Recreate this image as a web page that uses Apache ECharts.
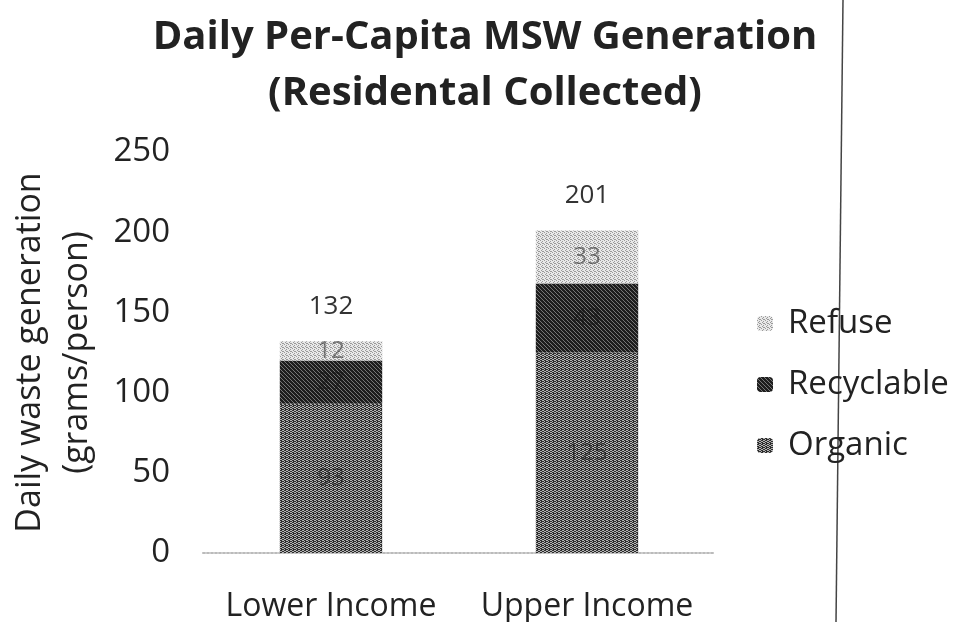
<!DOCTYPE html>
<html>
<head>
<meta charset="utf-8">
<script src="https://cdn.jsdelivr.net/npm/echarts@6/dist/echarts.min.js"></script>
<style>
  html, body { margin: 0; padding: 0; background: #fff; }
  #chart { width: 960px; height: 622px; }
</style>
</head>
<body>
<div id="chart"></div>
<script>
// data
const categories = ['Lower Income', 'Upper Income']
const organic = [93, 125]
const recyclable = [27, 43]
const refuse = [12, 33]
const totals = [132, 201]
const yTicks = [0, 50, 100, 150, 200, 250]

// small dithered tiles to imitate the printed hatching
function makePattern (dark, light, cells) {
  const c = document.createElement('canvas')
  c.width = 4
  c.height = 4
  const ctx = c.getContext('2d')
  ctx.fillStyle = light
  ctx.fillRect(0, 0, 4, 4)
  ctx.fillStyle = dark
  cells.forEach(([x, y]) => ctx.fillRect(x, y, 1, 1))
  return { image: c, repeat: 'repeat' }
}
const organicFill = makePattern('#2e2e2e', '#b4b4b4', [[0, 0], [1, 0], [2, 1], [3, 1], [0, 2], [1, 2], [2, 3], [3, 3], [1, 1], [3, 3]])
const recyclableFill = makePattern('#1e1e1e', '#777', [[0, 0], [1, 0], [2, 0], [1, 1], [2, 1], [3, 1], [0, 2], [2, 2], [3, 2], [0, 3], [1, 3], [3, 3]])
const refuseFill = makePattern('#9a9a9a', '#e8e8e8', [[0, 0], [2, 1], [1, 2], [3, 3], [2, 3]])

const font = 'Open Sans'
const innerLabel = {
  show: true,
  position: 'inside',
  color: 'rgba(20,20,20,0.5)',
  fontFamily: font,
  fontSize: 24
}

const chart = echarts.init(document.getElementById('chart'))
chart.setOption({
  animation: false,
  backgroundColor: '#fff',
  title: {
    text: 'Daily Per-Capita MSW Generation\n(Residental Collected)',
    left: 480,
    top: 5,
    textAlign: 'center',
    textStyle: {
      fontFamily: font,
      fontSize: 40,
      fontWeight: 'bold',
      color: '#222',
      lineHeight: 56
    }
  },
  legend: {
    orient: 'vertical',
    left: 752,
    top: 302,
    itemGap: 28,
    itemWidth: 16,
    itemHeight: 15,
    data: ['Refuse', 'Recyclable', 'Organic'],
    textStyle: { fontFamily: font, fontSize: 33, color: '#222', padding: [0, 0, 0, 10] }
  },
  grid: { left: 203, right: 245, top: 152, bottom: 69, outerBoundsMode: 'none', containLabel: false },
  xAxis: {
    type: 'category',
    data: categories,
    axisTick: { show: false },
    axisLine: { lineStyle: { color: '#bbb', type: 'dotted', width: 2 } },
    axisLabel: { fontFamily: font, fontSize: 32, color: '#222', margin: 38, interval: 0 }
  },
  yAxis: {
    type: 'value',
    min: yTicks[0],
    max: yTicks[yTicks.length - 1],
    interval: 50,
    name: 'Daily waste generation\n(grams/person)',
    nameLocation: 'middle',
    nameGap: 102,
    nameTextStyle: { fontFamily: font, fontSize: 34, color: '#222', lineHeight: 47 },
    axisLine: { show: false },
    axisTick: { show: false },
    splitLine: { show: false },
    axisLabel: { fontFamily: font, fontSize: 33, color: '#222', margin: 33 }
  },
  series: [
    {
      name: 'Organic',
      type: 'bar',
      stack: 'w',
      barWidth: '40%',
      data: organic,
      itemStyle: { color: organicFill },
      label: innerLabel
    },
    {
      name: 'Recyclable',
      type: 'bar',
      stack: 'w',
      data: recyclable,
      itemStyle: { color: recyclableFill },
      label: innerLabel
    },
    {
      name: 'Refuse',
      type: 'bar',
      stack: 'w',
      data: refuse,
      itemStyle: { color: refuseFill },
      label: innerLabel
    },
    {
      name: 'Total',
      type: 'bar',
      stack: 'w',
      data: totals.map(() => 0),
      itemStyle: { color: 'transparent' },
      label: {
        show: true,
        position: 'top',
        distance: 22,
        fontFamily: font,
        fontSize: 26,
        color: '#333',
        formatter: p => totals[p.dataIndex]
      }
    }
  ],
  graphic: [
    {
      type: 'line',
      shape: { x1: 843, y1: 0, x2: 836, y2: 622 },
      style: { stroke: '#444', lineWidth: 1.5 }
    }
  ]
})
</script>
</body>
</html>
